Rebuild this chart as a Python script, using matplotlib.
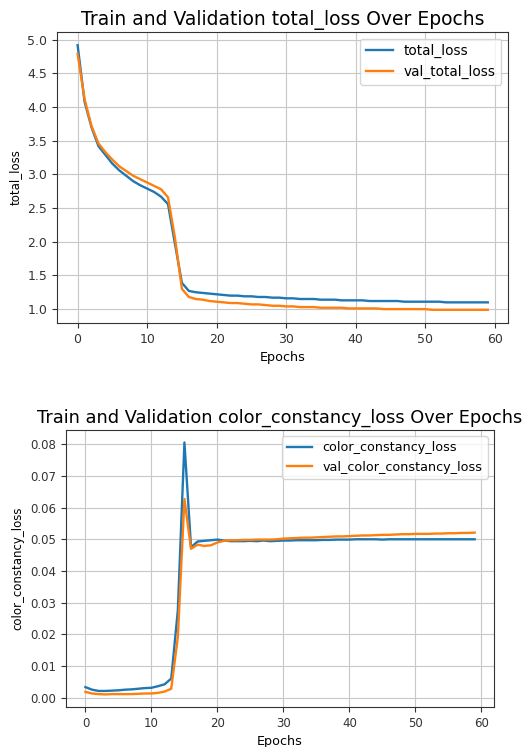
import numpy as np
import matplotlib
matplotlib.use('Agg')
import matplotlib.pyplot as plt

# valeurs (60 epochs)
epochs = np.arange(60)

total_loss = [4.92, 4.08, 3.70, 3.42, 3.29, 3.16, 3.06, 2.98, 2.90, 2.84,
              2.79, 2.74, 2.67, 2.56, 1.97, 1.39, 1.27, 1.25, 1.24, 1.23,
              1.22, 1.21, 1.20, 1.20, 1.19, 1.19, 1.18, 1.18, 1.17, 1.17,
              1.16, 1.16, 1.15, 1.15, 1.15, 1.14, 1.14, 1.14, 1.13, 1.13,
              1.13, 1.13, 1.12, 1.12, 1.12, 1.12, 1.12, 1.11, 1.11, 1.11,
              1.11, 1.11, 1.11, 1.10, 1.10, 1.10, 1.10, 1.10, 1.10, 1.10]
val_total_loss = [4.79, 4.12, 3.72, 3.46, 3.33, 3.22, 3.12, 3.05, 2.98, 2.93,
                  2.88, 2.83, 2.78, 2.66, 2.06, 1.30, 1.18, 1.15, 1.14, 1.12,
                  1.11, 1.10, 1.09, 1.09, 1.08, 1.07, 1.07, 1.06, 1.05, 1.05,
                  1.04, 1.04, 1.03, 1.03, 1.03, 1.02, 1.02, 1.02, 1.02, 1.01,
                  1.01, 1.01, 1.01, 1.01, 1.00, 1.00, 1.00, 1.00, 1.00, 1.00,
                  1.00, 0.99, 0.99, 0.99, 0.99, 0.99, 0.99, 0.99, 0.99, 0.99]

color_constancy_loss = [0.0034, 0.0026, 0.0022, 0.0022, 0.0023, 0.0024, 0.0026, 0.0027, 0.0029, 0.0031,
                        0.0032, 0.0037, 0.0043, 0.0061, 0.0276, 0.0805, 0.0475, 0.0493, 0.0495, 0.0497,
                        0.0499, 0.0496, 0.0494, 0.0494, 0.0494, 0.0495, 0.0494, 0.0496, 0.0494, 0.0495,
                        0.0496, 0.0496, 0.0497, 0.0497, 0.0497, 0.0497, 0.0498, 0.0498, 0.0499, 0.0499,
                        0.0499, 0.0500, 0.0500, 0.0500, 0.0500, 0.0499, 0.0500, 0.0500, 0.0500, 0.0500,
                        0.0500, 0.0500, 0.0500, 0.0500, 0.0500, 0.0500, 0.0500, 0.0500, 0.0500, 0.0500]
val_color_constancy_loss = [0.0019, 0.0014, 0.0012, 0.0011, 0.0012, 0.0012, 0.0012, 0.0012, 0.0013, 0.0014,
                            0.0014, 0.0016, 0.0020, 0.0029, 0.0192, 0.0627, 0.0470, 0.0483, 0.0479, 0.0481,
                            0.0490, 0.0495, 0.0497, 0.0497, 0.0498, 0.0498, 0.0499, 0.0499, 0.0499, 0.0500,
                            0.0502, 0.0503, 0.0504, 0.0505, 0.0505, 0.0506, 0.0507, 0.0508, 0.0509, 0.0509,
                            0.0510, 0.0511, 0.0512, 0.0512, 0.0513, 0.0514, 0.0514, 0.0515, 0.0516, 0.0516,
                            0.0517, 0.0517, 0.0517, 0.0518, 0.0518, 0.0519, 0.0519, 0.0520, 0.0520, 0.0521]

plt.rcParams['font.size'] = 9
plt.rcParams['axes.edgecolor'] = '#333333'
plt.rcParams['xtick.color'] = '#333333'
plt.rcParams['ytick.color'] = '#333333'
plt.rcParams['grid.color'] = '#c8c8c8'

fig = plt.figure(figsize=(5.24, 7.47), dpi=100)

# graphique du haut : total_loss
ax1 = fig.add_axes([0.109, 0.5676, 0.861, 0.3896])
ax1.plot(epochs, total_loss, label='total_loss', color='#1f77b4', lw=1.7)
ax1.plot(epochs, val_total_loss, label='val_total_loss', color='#ff7f0e', lw=1.7)
ax1.set_title('Train and Validation total_loss Over Epochs', fontsize=13.5, pad=5)
ax1.set_xlabel('Epochs', fontsize=9.2)
ax1.set_ylabel('total_loss', fontsize=8.5)
ax1.tick_params(labelsize=9)
ax1.grid(True)
ax1.legend(loc='upper right', fontsize=9.8)

# graphique du bas : color_constancy_loss
ax2 = fig.add_axes([0.126, 0.0535, 0.817, 0.371])
ax2.plot(epochs, color_constancy_loss, label='color_constancy_loss', color='#1f77b4', lw=1.7)
ax2.plot(epochs, val_color_constancy_loss, label='val_color_constancy_loss', color='#ff7f0e', lw=1.7)
ax2.set_title('Train and Validation color_constancy_loss Over Epochs', fontsize=12.8, pad=5)
ax2.set_xlabel('Epochs', fontsize=9.2)
ax2.set_ylabel('color_constancy_loss', fontsize=8.5)
ax2.set_yticks(np.arange(0, 0.081, 0.01))
ax2.tick_params(labelsize=8.5)
ax2.grid(True)
ax2.legend(loc='upper right', fontsize=9.2)

fig.savefig('out.png', dpi=100)
